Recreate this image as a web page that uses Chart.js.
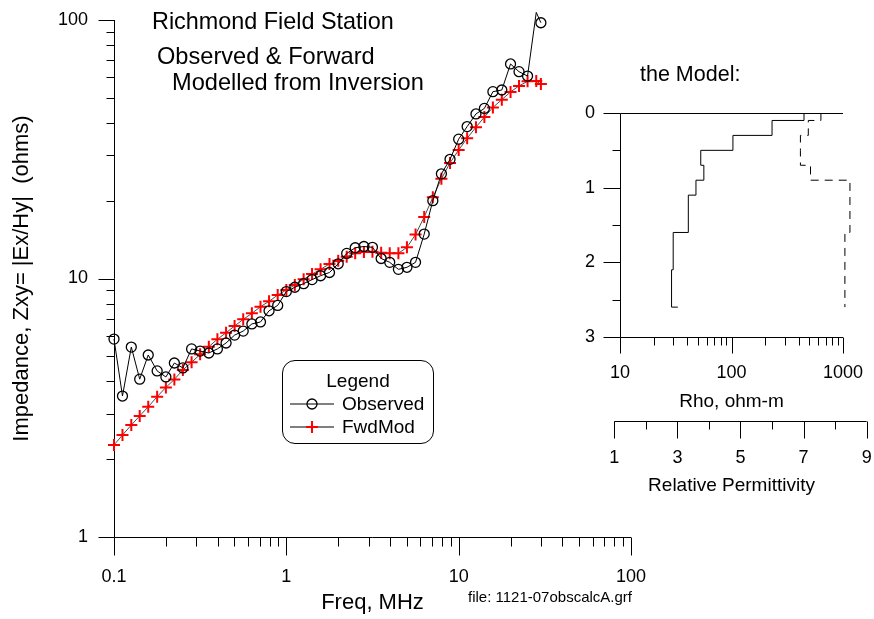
<!DOCTYPE html>
<html>
<head>
<meta charset="utf-8">
<script src="https://cdn.jsdelivr.net/npm/chart.js@4.4.0/dist/chart.umd.min.js"></script>
<style>
body { margin: 0; background: #fff; }
#wrap { position: relative; width: 874px; height: 619px; font-family: Arial, "Liberation Sans", sans-serif; color: #000; }
canvas { position: absolute; left: 0; top: 0; }
.txt { position: absolute; white-space: pre; line-height: 1; }
#legend { position: absolute; left: 282px; top: 360px; width: 150px; height: 82px; border: 1px solid #000; border-radius: 13px; background: #fff; }
</style>
</head>
<body>
<div id="wrap">
  <canvas id="main" width="874" height="619"></canvas>
  <canvas id="model" width="874" height="619"></canvas>
  <div class="txt" style="left:152px;top:10px;font-size:23.4px">Richmond Field Station</div>
  <div class="txt" style="left:157px;top:45px;font-size:23.6px">Observed &amp; Forward</div>
  <div class="txt" style="left:172px;top:71px;font-size:23.6px">Modelled from Inversion</div>
  <div class="txt" style="left:640px;top:64px;font-size:21.5px">the Model:</div>
  <div class="txt" style="left:468px;top:589px;font-size:15px">file: 1121-07obscalcA.grf</div>
  <div id="legend">
    <div class="txt" style="left:0;width:150px;text-align:center;top:10px;font-size:19px">Legend</div>
    <svg style="position:absolute;left:7px;top:35px" width="46" height="16">
      <line x1="0" y1="8" x2="44" y2="8" stroke="#000" stroke-width="1"/>
      <circle cx="22" cy="8" r="5" fill="none" stroke="#000" stroke-width="1.3"/>
    </svg>
    <div class="txt" style="left:59px;top:33px;font-size:19px">Observed</div>
    <svg style="position:absolute;left:7px;top:58px" width="46" height="16">
      <line x1="0" y1="8" x2="44" y2="8" stroke="#000" stroke-width="1"/>
      <line x1="16" y1="8" x2="28" y2="8" stroke="#f00" stroke-width="2"/>
      <line x1="22" y1="2" x2="22" y2="14" stroke="#f00" stroke-width="2"/>
    </svg>
    <div class="txt" style="left:59px;top:56px;font-size:19px">FwdMod</div>
  </div>
</div>
<script>
// sounding data, MHz
var freq = [0.1, 0.112, 0.126, 0.141, 0.158, 0.178, 0.2, 0.224, 0.251, 0.282,
    0.316, 0.355, 0.398, 0.447, 0.501, 0.562, 0.631, 0.708, 0.794, 0.891,
    1, 1.12, 1.26, 1.41, 1.58, 1.78, 2, 2.24, 2.51, 2.82,
    3.16, 3.55, 3.98, 4.47, 5.01, 5.62, 6.31, 7.08, 7.94, 8.91,
    10, 11.2, 12.6, 14.1, 15.8, 17.8, 20, 22.4, 25.1, 28.2, 30];
var observed = [5.83, 3.51, 5.43, 4.08, 5.06, 4.39, 4.16, 4.71, 4.51, 5.34,
    5.24, 5.15, 5.34, 5.63, 6.04, 6.26, 6.67, 6.79, 7.5, 7.87,
    8.9, 9.25, 9.55, 9.9, 10.25, 10.55, 11.4, 12.5, 13.15, 13.3,
    13.2, 11.95, 11.55, 10.85, 11.05, 11.55, 14.85, 20.0, 25.4, 28.9,
    34.6, 38.7, 43.3, 45.5, 52.8, 53.6, 67.6, 63.1, 60.7, 107, 97.6];
var fwdMod = [2.27, 2.48, 2.71, 2.94, 3.19, 3.49, 3.79, 4.07, 4.43, 4.74,
    5.09, 5.45, 5.82, 6.17, 6.55, 6.95, 7.33, 7.78, 8.16, 8.63,
    9.03, 9.44, 9.93, 10.4, 10.85, 11.38, 11.72, 12.14, 12.52, 12.66,
    12.7, 12.59, 12.52, 12.52, 13.2, 14.8, 17.3, 20.6, 24.3, 28.0,
    31.4, 34.9, 38.5, 42.1, 45.9, 49.2, 52.7, 55.6, 57.9, 58.1, 56.5];

// the model: layer tops (depth), rho and permittivity per layer
var layerTop = [0, 0.1, 0.3, 0.5, 0.7, 0.9, 1.1, 1.6, 2.1, 2.6];
var rhoLayer = [447, 231, 103, 53, 56.5, 48, 41, 30, 29, 33];
var permLayer = [7.55, 7.15, 6.9, 6.9, 7.22, 8.47, 8.47, 8.31, 8.31, 8.31];
var permTicks = [1, 2, 3, 4, 5, 6, 7, 8, 9];

var FONT = 'Arial, "Liberation Sans", sans-serif';
Chart.defaults.font.family = FONT;
Chart.defaults.color = '#000';

function logTicks(min, max) {
    var out = [];
    for (var e = Math.floor(Math.log10(min)); e <= Math.ceil(Math.log10(max)); e++) {
        for (var m = 1; m <= 9; m++) {
            var v = m * Math.pow(10, e);
            if (v >= min * 0.999 && v <= max * 1.001) out.push({ v: v, major: m === 1 });
        }
    }
    return out;
}
function decade(v) {
    var l = Math.log10(v);
    if (Math.abs(l - Math.round(l)) > 1e-6) return '';
    return v < 1 ? String(v) : String(Math.round(v));
}
function px(p) { return Math.round(p) + 0.5; }
// fixed box size, and no label overhang pushing the plot area around
function fixBox(w, h) {
    return function (s) {
        if (w) s.width = w;
        if (h) s.height = h;
        s.paddingTop = s.paddingBottom = s.paddingLeft = s.paddingRight = 0;
    };
}

var mainFrame = {
    id: 'mainFrame',
    beforeDatasetsDraw: function (chart) {
        var ctx = chart.ctx, xs = chart.scales.x, ys = chart.scales.y, a = chart.chartArea;
        var x0 = px(a.left), y0 = px(a.bottom);
        ctx.save();
        ctx.strokeStyle = '#000';
        ctx.lineWidth = 1;
        ctx.beginPath();
        ctx.moveTo(x0, a.top);
        ctx.lineTo(x0, y0);
        ctx.lineTo(a.right, y0);
        logTicks(xs.min, xs.max).forEach(function (t) {
            var p = px(xs.getPixelForValue(t.v));
            ctx.moveTo(p, y0);
            ctx.lineTo(p, y0 + (t.major ? 18 : 9));
        });
        logTicks(ys.min, ys.max).forEach(function (t) {
            var p = px(ys.getPixelForValue(t.v));
            ctx.moveTo(x0, p);
            ctx.lineTo(x0 - (t.major ? 16 : 8), p);
        });
        ctx.stroke();
        ctx.restore();
    }
};

var modelFrame = {
    id: 'modelFrame',
    beforeDatasetsDraw: function (chart) {
        var ctx = chart.ctx, xs = chart.scales.x, ys = chart.scales.y, pm = chart.scales.x2, a = chart.chartArea;
        var x0 = px(a.left), y0 = px(a.bottom), yTop = px(a.top);
        ctx.save();
        ctx.strokeStyle = '#000';
        ctx.lineWidth = 1;
        ctx.beginPath();
        // zero depth line, y axis, rho axis
        ctx.moveTo(a.right, yTop);
        ctx.lineTo(x0, yTop);
        ctx.lineTo(x0, y0);
        ctx.lineTo(a.right, y0);
        logTicks(xs.min, xs.max).forEach(function (t) {
            var p = px(xs.getPixelForValue(t.v));
            ctx.moveTo(p, y0);
            ctx.lineTo(p, y0 + (t.major ? 16 : 8));
        });
        for (var d = 0; d <= 3; d += 0.5) {
            var p = px(ys.getPixelForValue(d));
            ctx.moveTo(x0, p);
            ctx.lineTo(x0 - (d % 1 === 0 ? 17 : 8), p);
        }
        // relative permittivity axis
        var yp = 421.5;
        ctx.moveTo(pm.getPixelForValue(permTicks[0]), yp);
        ctx.lineTo(pm.getPixelForValue(permTicks[permTicks.length - 1]), yp);
        permTicks.forEach(function (v) {
            var p = px(pm.getPixelForValue(v));
            ctx.moveTo(p, yp);
            ctx.lineTo(p, yp + (v % 2 === 1 ? 17 : 8));
        });
        ctx.stroke();
        ctx.fillStyle = '#000';
        ctx.textAlign = 'center';
        ctx.textBaseline = 'middle';
        ctx.font = '18px ' + FONT;
        permTicks.forEach(function (v) {
            if (v % 2 === 1) ctx.fillText(String(v), pm.getPixelForValue(v), 458);
        });
        ctx.font = '19px ' + FONT;
        ctx.fillText('Relative Permittivity', (a.left + a.right) / 2, 486);
        ctx.restore();
    }
};

new Chart(document.getElementById('main'), {
    type: 'line',
    data: {
        datasets: [{
            label: 'Observed',
            data: freq.map(function (f, i) { return { x: f, y: observed[i] }; }),
            borderColor: '#000',
            borderWidth: 1,
            pointStyle: 'circle',
            pointRadius: 5,
            pointBorderWidth: 1.3,
            pointBorderColor: '#000',
            pointBackgroundColor: 'rgba(0,0,0,0)',
            clip: false
        }, {
            label: 'FwdMod',
            data: freq.map(function (f, i) { return { x: f, y: fwdMod[i] }; }),
            borderColor: '#000',
            borderWidth: 0.7,
            pointStyle: 'cross',
            pointRadius: 6,
            pointBorderWidth: 2,
            pointBorderColor: '#ff0000',
            clip: false
        }]
    },
    options: {
        responsive: false,
        animation: false,
        layout: { padding: { left: 0, top: 20, right: 243, bottom: 0 } },
        plugins: { legend: { display: false }, tooltip: { enabled: false } },
        scales: {
            x: {
                type: 'logarithmic', min: 0.1, max: 100, position: 'bottom',
                afterFit: fixBox(0, 82),
                grid: { display: false, drawTicks: false },
                border: { display: false },
                ticks: { padding: 29, autoSkip: false, maxRotation: 0, font: { size: 18 }, callback: decade },
                title: { display: true, text: 'Freq, MHz', font: { size: 22 }, padding: { top: 0, bottom: 3 } }
            },
            y: {
                type: 'logarithmic', min: 1, max: 100, position: 'left',
                afterFit: fixBox(114, 0),
                grid: { display: false, drawTicks: false },
                border: { display: false },
                ticks: { padding: 26, autoSkip: false, font: { size: 18 }, callback: decade },
                title: { display: true, text: 'Impedance, Zxy= |Ex/Hy|  (ohms)', font: { size: 22 }, padding: { top: 9, bottom: 0 } }
            }
        }
    },
    plugins: [mainFrame]
});

new Chart(document.getElementById('model'), {
    type: 'line',
    data: {
        datasets: [{
            label: 'Rho',
            data: layerTop.map(function (d, i) { return { x: rhoLayer[i], y: d }; }),
            xAxisID: 'x', yAxisID: 'y',
            borderColor: '#000', borderWidth: 1, pointRadius: 0,
            stepped: 'after',
            clip: false
        }, {
            label: 'Permittivity',
            data: layerTop.map(function (d, i) { return { x: permLayer[i], y: d }; }),
            xAxisID: 'x2', yAxisID: 'y',
            borderColor: '#000', borderWidth: 1, borderDash: [8, 6], pointRadius: 0,
            stepped: 'after',
            clip: false
        }]
    },
    options: {
        responsive: false,
        animation: false,
        layout: { padding: { left: 560, top: 113, right: 31, bottom: 202 } },
        plugins: { legend: { display: false }, tooltip: { enabled: false } },
        scales: {
            x: {
                type: 'logarithmic', min: 10, max: 1000, position: 'bottom',
                afterFit: fixBox(0, 80),
                grid: { display: false, drawTicks: false },
                border: { display: false },
                ticks: { padding: 25, autoSkip: false, maxRotation: 0, font: { size: 18 }, callback: decade },
                title: { display: true, text: 'Rho, ohm-m', font: { size: 19 }, padding: { top: 0, bottom: 4 } }
            },
            x2: {
                type: 'linear', min: 1.18, max: 8.25, position: 'bottom', display: false
            },
            y: {
                type: 'linear', min: 0, max: 3, reverse: true, position: 'left',
                afterFit: fixBox(60, 0),
                grid: { display: false, drawTicks: false },
                border: { display: false },
                ticks: { padding: 25, stepSize: 1, font: { size: 18 } }
            }
        }
    },
    plugins: [modelFrame]
});
</script>
</body>
</html>
